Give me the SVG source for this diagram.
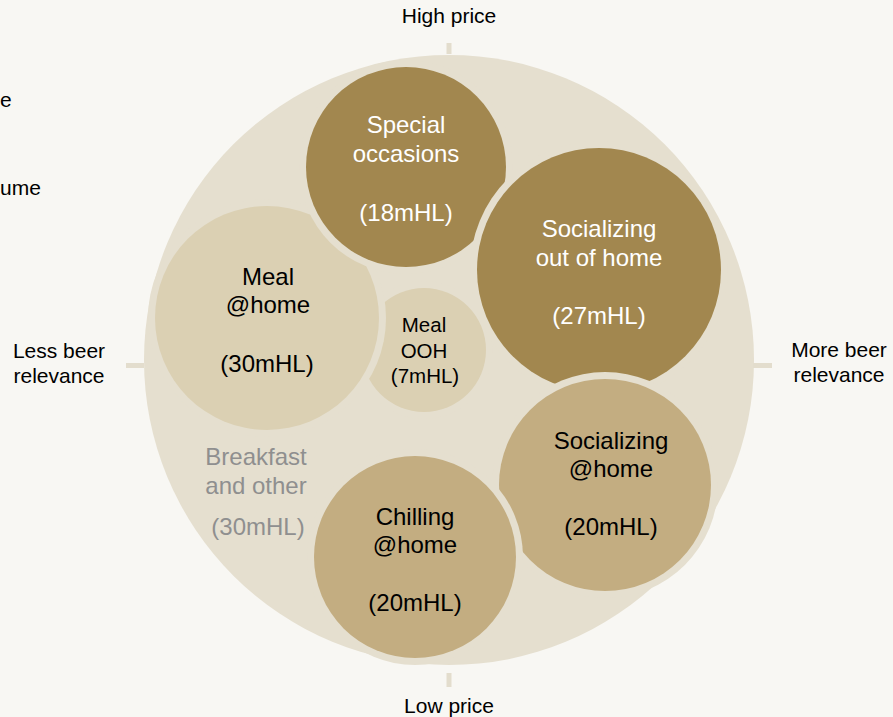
<svg xmlns="http://www.w3.org/2000/svg" width="893" height="717" viewBox="0 0 893 717">
  <style>
    text { font-family: "Liberation Sans", Arial, sans-serif; text-anchor: middle; }
    .axis { font-size: 21px; fill: #000; }
    .lbl { font-size: 24px; }
    .sm { font-size: 20.5px; }
    .onDark { fill: #ffffff; }
    .onLight { fill: #000000; }
    .muted { fill: #8f8f8f; }
    .halo { fill: #e5dfcf; }
    .dark { fill: #a2874f; }
    .mid { fill: #c3ad81; }
    .light { fill: #dbd0b3; }
    .tick { fill: #e3ddcd; }
  </style>

  <rect width="893" height="717" fill="#f8f7f3"/>

  <!-- partially visible legend text at the left edge -->
  <text class="axis" x="0" y="107" style="text-anchor:start">e</text>
  <text class="axis" x="0" y="195" style="text-anchor:start">ume</text>

  <!-- outer disc and axis ticks -->
  <g id="axes">
    <circle cx="449" cy="360" r="305" fill="#e5dfcf"/>
    <rect class="tick" x="446.5" y="43" width="5" height="11"/>
    <rect class="tick" x="446.5" y="673" width="5" height="14"/>
    <rect class="tick" x="126" y="363" width="18" height="5"/>
    <rect class="tick" x="753" y="363" width="19" height="5"/>
    <text class="axis" x="449" y="23">High price</text>
    <text class="axis" x="449" y="713">Low price</text>
    <text class="axis" x="59" y="358">Less beer</text>
    <text class="axis" x="59" y="383">relevance</text>
    <text class="axis" x="839" y="357">More beer</text>
    <text class="axis" x="839" y="382">relevance</text>
  </g>

  <g id="connectors"/>

  <!-- segments, drawn back to front; each halo carves a gap into the ones beneath -->
  <g id="breakfast-other">
    <text class="lbl muted" x="256" y="465">Breakfast</text>
    <text class="lbl muted" x="256" y="494">and other</text>
    <text class="lbl muted" x="258" y="535">(30mHL)</text>
  </g>

  <g id="meal-ooh">
    <circle class="halo" cx="424" cy="350" r="69"/>
    <circle class="light" cx="424" cy="350" r="62"/>
    <text class="sm onLight" x="424" y="332">Meal</text>
    <text class="sm onLight" x="424" y="358">OOH</text>
    <text class="sm onLight" x="425" y="383">(7mHL)</text>
  </g>

  <g id="meal-home">
    <circle class="halo" cx="267" cy="318" r="119"/>
    <circle class="light" cx="267" cy="318" r="112"/>
    <text class="lbl onLight" x="268" y="285">Meal</text>
    <text class="lbl onLight" x="268" y="313">@home</text>
    <text class="lbl onLight" x="267" y="372">(30mHL)</text>
  </g>

  <g id="special-occasions">
    <circle class="halo" cx="406" cy="167" r="107"/>
    <circle class="dark" cx="406" cy="167" r="100"/>
    <text class="lbl onDark" x="406" y="133">Special</text>
    <text class="lbl onDark" x="406" y="162">occasions</text>
    <text class="lbl onDark" x="406" y="221">(18mHL)</text>
  </g>

  <g id="socializing-out">
    <circle class="halo" cx="599" cy="270" r="129"/>
    <circle class="dark" cx="599" cy="270" r="122"/>
    <text class="lbl onDark" x="599" y="237">Socializing</text>
    <text class="lbl onDark" x="599" y="266">out of home</text>
    <text class="lbl onDark" x="599" y="324">(27mHL)</text>
  </g>

  <g id="socializing-home">
    <circle class="halo" cx="605" cy="485" r="113"/>
    <circle class="mid" cx="605" cy="485" r="106"/>
    <text class="lbl onLight" x="611" y="449">Socializing</text>
    <text class="lbl onLight" x="611" y="477">@home</text>
    <text class="lbl onLight" x="611" y="535">(20mHL)</text>
  </g>

  <g id="chilling-home">
    <circle class="halo" cx="415" cy="557" r="108"/>
    <circle class="mid" cx="415" cy="557" r="101"/>
    <text class="lbl onLight" x="415" y="525">Chilling</text>
    <text class="lbl onLight" x="415" y="553">@home</text>
    <text class="lbl onLight" x="415" y="611">(20mHL)</text>
  </g>
</svg>
